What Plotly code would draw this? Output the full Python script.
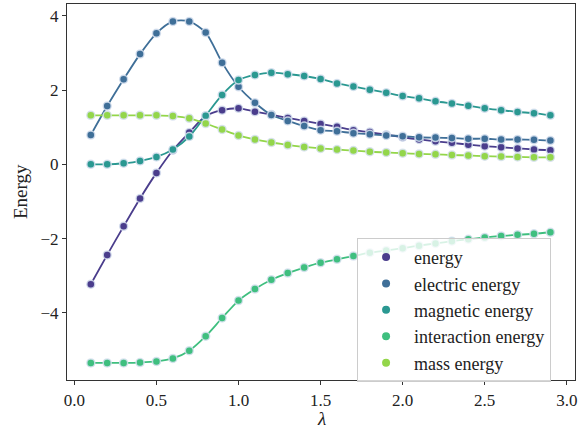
import plotly.graph_objects as go

lam = [round(0.1 * i, 1) for i in range(1, 30)]

energy = [-3.23, -2.44, -1.67, -0.92, -0.23, 0.38, 0.86, 1.30, 1.46, 1.51, 1.42, 1.34, 1.25, 1.17,
          1.09, 1.01, 0.92, 0.87, 0.80, 0.73, 0.67, 0.62, 0.58, 0.53, 0.49, 0.46, 0.43, 0.40, 0.38]
electric = [0.79, 1.57, 2.29, 2.97, 3.53, 3.85, 3.85, 3.55, 2.74, 2.09, 1.66, 1.33, 1.17, 1.03,
            0.92, 0.89, 0.84, 0.81, 0.78, 0.76, 0.73, 0.72, 0.71, 0.69, 0.69, 0.67, 0.67, 0.66, 0.64]
magnetic = [0.00, 0.00, 0.03, 0.09, 0.20, 0.40, 0.75, 1.31, 1.87, 2.27, 2.41, 2.47, 2.43, 2.38,
            2.30, 2.18, 2.10, 2.01, 1.93, 1.84, 1.78, 1.70, 1.64, 1.58, 1.51, 1.46, 1.41, 1.38, 1.32]
interaction = [-5.35, -5.35, -5.35, -5.34, -5.31, -5.23, -5.02, -4.63, -4.14, -3.67, -3.36, -3.11, -2.93, -2.78,
               -2.65, -2.56, -2.47, -2.38, -2.32, -2.26, -2.19, -2.13, -2.07, -2.02, -1.97, -1.93, -1.90, -1.87, -1.83]
mass = [1.32, 1.32, 1.32, 1.32, 1.32, 1.30, 1.24, 1.10, 0.94, 0.78, 0.67, 0.59, 0.52, 0.47,
        0.43, 0.40, 0.37, 0.34, 0.32, 0.30, 0.28, 0.27, 0.25, 0.24, 0.22, 0.21, 0.20, 0.19, 0.19]

series_names = ["energy", "electric energy", "magnetic energy", "interaction energy", "mass energy"]
series_values = [energy, electric, magnetic, interaction, mass]
colors = ["#4a3d8c", "#3f6f98", "#2a9891", "#3fbf7f", "#93d64a"]

x_ticks = [0.0, 0.5, 1.0, 1.5, 2.0, 2.5, 3.0]
y_ticks = [-4, -2, 0, 2, 4]

FONT = "Liberation Serif"
TICK_FS = 17
LABEL_FS = 19
LEG_FS = 18

fig = go.Figure()
for name, vals, col in zip(series_names, series_values, colors):
    fig.add_trace(go.Scatter(
        x=lam, y=vals, mode="lines+markers", name=name, showlegend=False,
        line=dict(color=col, width=1.8, shape="spline", smoothing=0.8),
        marker=dict(color=col, size=8, line=dict(color="rgba(215,225,240,0.85)", width=1.5)),
    ))
for name, col in zip(series_names, colors):
    fig.add_trace(go.Scatter(
        x=[None], y=[None], mode="markers", name=name,
        marker=dict(color=col, size=8),
    ))

axis_common = dict(
    showline=True, mirror=True, linecolor="#333333", linewidth=1.2,
    ticks="outside", ticklen=4, tickwidth=1, tickcolor="#333333",
    showgrid=False, zeroline=False, automargin=False,
    tickfont=dict(family=FONT, size=TICK_FS, color="#222222"),
)

fig.update_layout(
    width=587, height=429,
    margin=dict(l=67, r=12, t=4, b=49),
    paper_bgcolor="white", plot_bgcolor="white",
    font=dict(family=FONT, size=TICK_FS, color="#222222"),
    xaxis=dict(range=[-0.045, 3.05], tickvals=x_ticks, tickformat=".1f", **axis_common),
    yaxis=dict(range=[-5.81, 4.32], tickvals=y_ticks, **axis_common),
    legend=dict(
        x=0.571, y=0.378, xanchor="left", yanchor="top",
        bgcolor="rgba(255,255,255,0.8)", bordercolor="#cccccc", borderwidth=1,
        font=dict(family=FONT, size=LEG_FS, color="#222222"),
        itemwidth=46,
    ),
    annotations=[
        dict(text="Energy", xref="paper", yref="paper", x=-0.0925, y=0.5,
             xanchor="center", yanchor="middle", textangle=-90, showarrow=False,
             font=dict(family=FONT, size=LABEL_FS, color="#222222")),
        dict(text="<i>λ</i>", xref="paper", yref="paper", x=0.5, y=-0.1024,
             xanchor="center", yanchor="middle", showarrow=False,
             font=dict(family=FONT, size=LABEL_FS, color="#222222")),
    ],
)

fig.write_html("out.html", config={"displayModeBar": False},
               post_script="document.body.style.margin='0px';")
